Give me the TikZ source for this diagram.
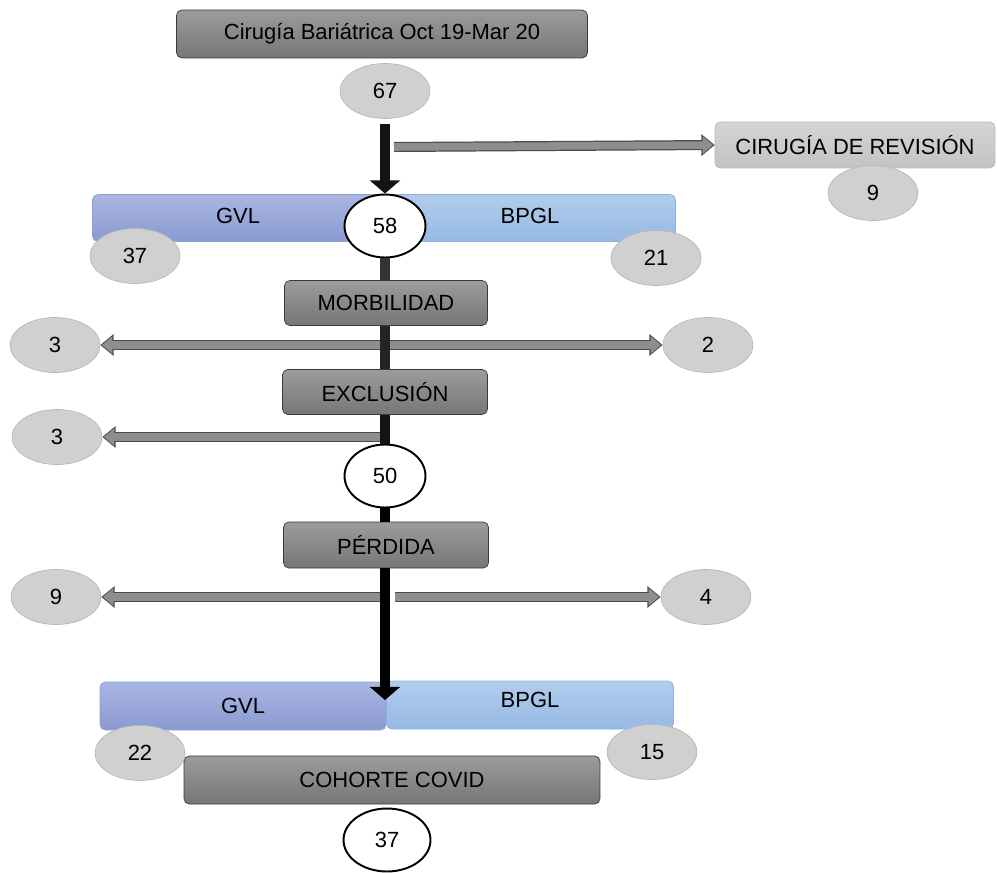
\documentclass[tikz,border=0pt]{standalone}
\usepackage{fontspec}
\setmainfont{Liberation Sans}
\usetikzlibrary{shapes.geometric,arrows.meta}

\definecolor{boxtop}{HTML}{9C9C9C}
\definecolor{boxbot}{HTML}{767676}
\definecolor{boxline}{HTML}{3A3A3A}
\definecolor{revtop}{HTML}{D4D4D4}
\definecolor{revbot}{HTML}{C3C3C3}
\definecolor{ovalfill}{HTML}{D0D0D0}
\definecolor{ovalline}{HTML}{B8B8B8}
\definecolor{gvltop}{HTML}{AAB6E2}
\definecolor{gvlbot}{HTML}{8A9AD2}
\definecolor{gvlline}{HTML}{8EA0D8}
\definecolor{bpgltop}{HTML}{B2CCEC}
\definecolor{bpglbot}{HTML}{96B9E4}
\definecolor{bpglline}{HTML}{8EB2E0}
\definecolor{sidefill}{HTML}{8E8E8E}
\definecolor{sideline}{HTML}{4A4A4A}

\tikzset{
  every node/.style={font=\fontsize{12.5}{14}\selectfont},
  darkbox/.style={rectangle,rounded corners=3pt,draw=boxline,top color=boxtop,bottom color=boxbot,inner sep=0pt},
  revbox/.style={rectangle,rounded corners=3pt,draw=ovalline,top color=revtop,bottom color=revbot,inner sep=0pt},
  gvlbox/.style={rectangle,rounded corners=3pt,draw=gvlline,top color=gvltop,bottom color=gvlbot,inner sep=0pt},
  bpglbox/.style={rectangle,rounded corners=3pt,draw=bpglline,top color=bpgltop,bottom color=bpglbot,inner sep=0pt},
  grayoval/.style={ellipse,draw=ovalline,fill=ovalfill,minimum width=1.8cm,minimum height=1.1cm,inner sep=0pt},
  whiteoval/.style={ellipse,draw=black,line width=1.1pt,fill=white,minimum width=1.62cm,minimum height=1.26cm,inner sep=0pt},
  trunk/.style={line width=6.2pt},
  trunktip/.style={-{Triangle[width=17pt,length=7.5pt]}},
  sidearrow/.style={draw=sidefill,line width=4.3pt,shorten >=0.9pt,-{Triangle[width=9.6pt,length=6pt]},
    preaction={draw=sideline,line width=5.7pt,shorten >=0pt,-{Triangle[width=12pt,length=7.6pt]}}}
}

\begin{document}
\begin{tikzpicture}[x=0.02cm,y=-0.02cm]
\useasboundingbox (0,0) rectangle (997,872);

\node[darkbox,minimum width=8.22cm,minimum height=0.96cm] (start) at (382,34) {Cirugía Bariátrica Oct 19-Mar 20};
\node[grayoval] (n67) at (385,91) {67};

\node[revbox,minimum width=5.6cm,minimum height=0.92cm] (revis) at (855,145) {CIRUGÍA DE REVISIÓN};
\node[grayoval] (n9a) at (873,193) {9};

\node[gvlbox,minimum width=5.82cm,minimum height=0.94cm] (gvlA) at (238,218) {\raisebox{3pt}{GVL}};
\node[bpglbox,minimum width=5.82cm,minimum height=0.94cm] (bpglA) at (530,218) {\raisebox{3pt}{BPGL}};
\node[grayoval] (n37a) at (135,256) {37};
\node[grayoval] (n21) at (656,258) {21};

\node[darkbox,minimum width=4.06cm,minimum height=0.9cm] (morb) at (386,303) {MORBILIDAD};
\node[grayoval] (n3a) at (55,345) {3};
\node[grayoval] (n2) at (708,345) {2};

\node[darkbox,minimum width=4.1cm,minimum height=0.9cm] (excl) at (385,392) {EXCLUSIÓN};
\node[grayoval] (n3b) at (57,437) {3};

\node[darkbox,minimum width=4.1cm,minimum height=0.92cm] (perd) at (386,545) {PÉRDIDA};
\node[grayoval] (n9b) at (56,597) {9};
\node[grayoval] (n4) at (706,597) {4};

\node[gvlbox,minimum width=5.72cm,minimum height=0.96cm] (gvlB) at (243,706) {\raisebox{-2pt}{GVL}};
\node[bpglbox,minimum width=5.74cm,minimum height=0.96cm] (bpglB) at (530,705) {\raisebox{6pt}{BPGL}};
\node[grayoval] (n22) at (140,753) {22};
\node[grayoval] (n15) at (652,752) {15};

\node[darkbox,minimum width=8.32cm,minimum height=0.96cm] (covid) at (392,780) {COHORTE COVID};
\node[whiteoval,minimum width=1.74cm] (n37b) at (387,840) {37};

% side arrows
\coordinate (r1) at (394,147);
\coordinate (r2) at (386,345);
\coordinate (r3) at (380,437);
\coordinate (r4l) at (380,597);
\coordinate (r4r) at (395,597);
\draw[sidearrow] (r1) -- (revis.west);
\draw[sidearrow] (r2) -- (r2 -| n3a.east);
\draw[sidearrow] (r2) -- (r2 -| n2.west);
\draw[sidearrow] (r3) -- (r3 -| n3b.east);
\draw[sidearrow] (r4l) -- (r4l -| n9b.east);
\draw[sidearrow] (r4r) -- (r4r -| n4.west);

% trunk
\node[whiteoval] (n58) at (385,226) {58};
\node[whiteoval] (n50) at (385,476) {50};
\coordinate (tipB) at (385,700);
\draw[trunk,black!92,trunktip] ([yshift=-3pt]n67.south) -- (n58.north);
\draw[trunk,black!80] (n58.south) -- (n58.south |- morb.north);
\draw[trunk,black!86] (n58.south |- morb.south) -- (n58.south |- excl.north);
\draw[trunk,black!92] (n58.south |- excl.south) -- (n50.north);
\draw[trunk,black] (n50.south) -- (n50.south |- perd.north);
\draw[trunk,black,trunktip] (n50.south |- perd.south) -- (tipB);

\end{tikzpicture}
\end{document}
